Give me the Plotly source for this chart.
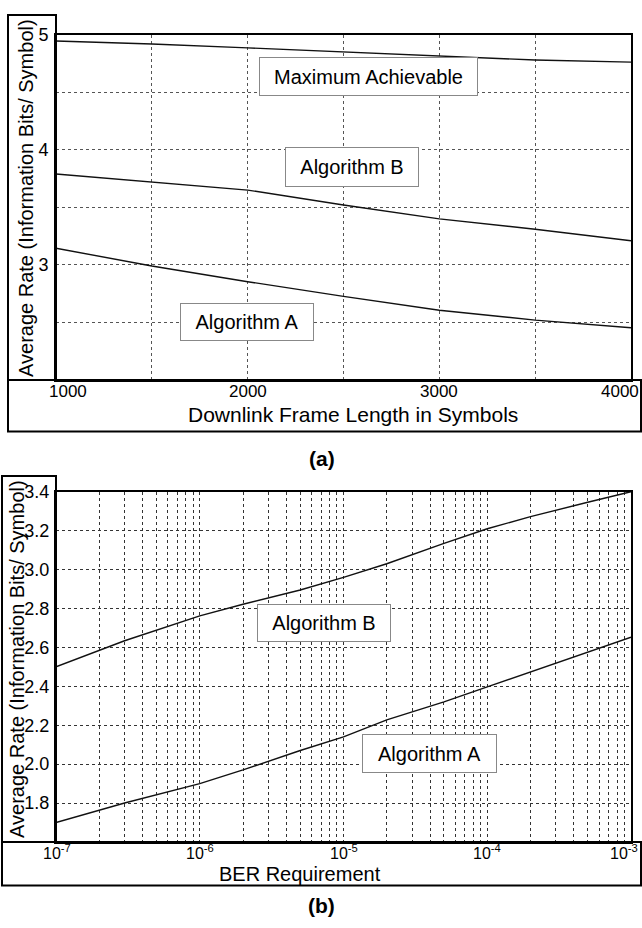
import plotly.graph_objects as go

# ---------------- data ----------------
# (a) Average rate vs downlink frame length
frame_len = [1000, 1500, 2000, 2500, 3000, 3500, 4000]
max_achievable = [4.945, 4.92, 4.886, 4.851, 4.81, 4.78, 4.762]
alg_b_a = [3.79, 3.72, 3.65, 3.52, 3.40, 3.31, 3.21]
alg_a_a = [3.145, 2.99, 2.854, 2.726, 2.606, 2.52, 2.454]

# (b) Average rate vs BER requirement
ber = [1e-7, 3e-7, 1e-6, 2e-6, 5e-6, 1e-5, 2e-5, 5e-5, 1e-4, 2e-4, 5e-4, 1e-3]
alg_b_b = [2.50, 2.634, 2.762, 2.822, 2.895, 2.96, 3.03, 3.135, 3.21, 3.272, 3.346, 3.40]
alg_a_b = [1.70, 1.80, 1.90, 1.97, 2.07, 2.14, 2.227, 2.32, 2.397, 2.473, 2.575, 2.652]

# tick labels
a_xticks = [1000, 1500, 2000, 2500, 3000, 3500, 4000]
a_xlabels = ["1000", "", "2000", "", "3000", "", "4000"]
a_yticks = [2.5, 3, 3.5, 4, 4.5, 5]
a_ylabels = ["", "3", "", "4", "", "5"]
b_decades = [-7, -6, -5, -4, -3]
b_dec_labels = ["10<sup>-7</sup>", "10<sup>-6</sup>", "10<sup>-5</sup>", "10<sup>-4</sup>", "10<sup>-3</sup>"]
b_yticks = [1.8, 2.0, 2.2, 2.4, 2.6, 2.8, 3.0, 3.2, 3.4]
b_ylabels = ["1.8", "2.0", "2.2", "2.4", "2.6", "2.8", "3.0", "3.2", "3.4"]

# ---------------- layout helpers ----------------
W, H = 642, 928
FONT = "Liberation Sans, Arial, Helvetica, sans-serif"


def px(x):
    return x / W


def py(y):
    return 1 - y / H


b_xgrid = [k * 10 ** d for d in b_decades[:-1] for k in range(1, 10)] + [10 ** b_decades[-1]]

fig = go.Figure()
line_style = dict(color="#111", width=1.4)
fig.add_trace(go.Scatter(x=frame_len, y=max_achievable, mode="lines", line=line_style, xaxis="x", yaxis="y"))
fig.add_trace(go.Scatter(x=frame_len, y=alg_b_a, mode="lines", line=line_style, xaxis="x", yaxis="y"))
fig.add_trace(go.Scatter(x=frame_len, y=alg_a_a, mode="lines", line=line_style, xaxis="x", yaxis="y"))
fig.add_trace(go.Scatter(x=ber, y=alg_b_b, mode="lines", line=line_style, xaxis="x2", yaxis="y2"))
fig.add_trace(go.Scatter(x=ber, y=alg_a_b, mode="lines", line=line_style, xaxis="x2", yaxis="y2"))

axis_common = dict(
    showline=True, mirror=True, linecolor="black", linewidth=2,
    showgrid=True, gridwidth=1, griddash="dot",
    zeroline=False, ticks="", tickfont=dict(family=FONT, size=18, color="black"),
)

fig.update_layout(
    width=W, height=H, autosize=False,
    margin=dict(l=0, r=0, t=0, b=0),
    paper_bgcolor="white", plot_bgcolor="white",
    showlegend=False,
    xaxis=dict(domain=[px(56), px(631)], anchor="y", range=[1000, 4000], gridcolor="#555",
               tickvals=a_xticks, ticktext=a_xlabels, showticklabels=False, **axis_common),
    yaxis=dict(domain=[py(374), py(25)], anchor="x", range=[2, 5], gridcolor="#555",
               tickvals=a_yticks, ticktext=a_ylabels, ticklabelstandoff=2, **axis_common),
    xaxis2=dict(domain=[px(56), px(631)], anchor="y2", type="log", range=[-7, -3], gridcolor="#333",
                tickvals=b_xgrid, showticklabels=False, **axis_common),
    yaxis2=dict(domain=[py(841), py(487)], anchor="x2", range=[1.6, 3.4], gridcolor="#333",
                tickvals=b_yticks, ticktext=b_ylabels, ticklabelstandoff=1, **axis_common),
)

ann = []
# x tick labels (a)
a_shift = {1000: 12, 4000: -11}
for v, t in zip(a_xticks, a_xlabels):
    if t:
        ann.append(dict(x=v, y=py(386), xref="x", yref="paper", text=t, showarrow=False,
                        xshift=a_shift.get(v, 0), yanchor="middle",
                        font=dict(family=FONT, size=17, color="black")))
# x tick labels (b)
b_shift = {-7: 1, -3: -7}
for d, t in zip(b_decades, b_dec_labels):
    ann.append(dict(x=d, y=py(851), xref="x2", yref="paper", text=t, showarrow=False,
                    xshift=b_shift.get(d, 0), yanchor="middle",
                    font=dict(family=FONT, size=16, color="black")))

# axis titles
ann.append(dict(x=px(353), y=py(409), xref="paper", yref="paper", showarrow=False,
                text="Downlink Frame Length in Symbols", yanchor="middle",
                font=dict(family=FONT, size=21, color="black")))
ann.append(dict(x=px(300), y=py(873), xref="paper", yref="paper", showarrow=False,
                text="BER Requirement", yanchor="middle",
                font=dict(family=FONT, size=20, color="black")))
ann.append(dict(x=px(26), y=py(190), xref="paper", yref="paper", showarrow=False,
                text="Average Rate (Information Bits/ Symbol)", textangle=-90,
                xanchor="center", yanchor="middle",
                font=dict(family=FONT, size=20, color="black")))
ann.append(dict(x=px(17), y=py(656), xref="paper", yref="paper", showarrow=False,
                text="Average Rate (Information Bits/ Symbol)", textangle=-90,
                xanchor="center", yanchor="middle",
                font=dict(family=FONT, size=20, color="black")))
# panel captions
ann.append(dict(x=px(322), y=py(453), xref="paper", yref="paper", showarrow=False,
                text="<b>(a)</b>", yanchor="middle", font=dict(family=FONT, size=21, color="black")))
ann.append(dict(x=px(322), y=py(905), xref="paper", yref="paper", showarrow=False,
                text="<b>(b)</b>", yanchor="middle", font=dict(family=FONT, size=21, color="black")))

# curve labels in boxes
def box_label(text, x, y, xr, yr, bw, bh):
    pad = 3
    return dict(x=x, y=y, xref=xr, yref=yr, text=text, showarrow=False,
                xanchor="center", yanchor="middle",
                width=bw - 2 * pad - 2, height=bh - 2 * pad - 2, borderpad=pad,
                bgcolor="white", bordercolor="#888", borderwidth=1,
                font=dict(family=FONT, size=20, color="black"))

ann.append(box_label("Maximum Achievable", 2628, 4.635, "x", "y", 219, 39))
ann.append(box_label("Algorithm B", 2544, 3.848, "x", "y", 134, 40))
ann.append(box_label("Algorithm A", 1997, 2.507, "x", "y", 134, 38))
ann.append(box_label("Algorithm B", -5.136, 2.724, "x2", "y2", 134, 38))
ann.append(box_label("Algorithm A", -4.402, 2.055, "x2", "y2", 135, 39))
fig.update_layout(annotations=ann)

# frames around axis-label areas
frame = dict(color="black", width=2)
shapes = [
    dict(type="rect", xref="paper", yref="paper", x0=px(8), x1=px(56), y0=py(374), y1=py(5), line=frame),
    dict(type="rect", xref="paper", yref="paper", x0=px(8), x1=px(641), y0=py(426), y1=py(374), line=frame),
    dict(type="rect", xref="paper", yref="paper", x0=px(2), x1=px(56), y0=py(841), y1=py(471), line=frame),
    dict(type="rect", xref="paper", yref="paper", x0=px(2), x1=px(641), y0=py(885), y1=py(841), line=frame),
]
fig.update_layout(shapes=shapes)

fig.write_html("out.html", config={"displayModeBar": False},
               post_script="document.body.style.margin='0';document.body.style.overflow='hidden';")
